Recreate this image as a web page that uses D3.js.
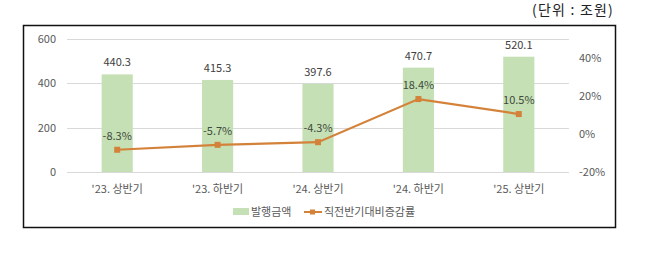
<!DOCTYPE html>
<html>
<head>
<meta charset="utf-8">
<script src="https://cdn.jsdelivr.net/npm/d3@7"></script>
<style>
body{margin:0;background:#fff;font-family:"Noto Sans CJK KR","Noto Sans",sans-serif;}
</style>
</head>
<body>
<div id="chart"></div>
<script>
var categories = ["'23. 상반기", "'23. 하반기", "'24. 상반기", "'24. 하반기", "'25. 상반기"];
var amounts = [440.3, 415.3, 397.6, 470.7, 520.1];
var changes = [-8.3, -5.7, -4.3, 18.4, 10.5];
var leftTicks = [0, 200, 400, 600];
var rightTicks = [-20, 0, 20, 40];

var width = 645, height = 256;
var plot = {left: 67, right: 569, top: 39, bottom: 172};

var svg = d3.select("#chart").append("svg")
  .attr("width", width)
  .attr("height", height);

// unit label
svg.append("text")
  .attr("x", 614).attr("y", 15)
  .attr("text-anchor", "end")
  .attr("font-size", 14)
  .attr("letter-spacing", 1.2)
  .attr("fill", "#222")
  .text("(단위 : 조원)");

// frame
svg.append("rect")
  .attr("x", 23.5).attr("y", 25.5)
  .attr("width", 592).attr("height", 202)
  .attr("fill", "none")
  .attr("stroke", "#111")
  .attr("stroke-width", 1.5);

var x = d3.scaleBand().domain(categories).range([plot.left, plot.right]).paddingInner(0.69).paddingOuter(0.345);
var y = d3.scaleLinear().domain([0, 600]).range([plot.bottom, plot.top]);
var y2 = d3.scaleLinear().domain([-20, 50]).range([plot.bottom, plot.top]);

// gridlines
svg.append("g").selectAll("line").data(leftTicks).enter().append("line")
  .attr("x1", plot.left).attr("x2", plot.right)
  .attr("y1", function(d){ return Math.round(y(d)) + 0.5; })
  .attr("y2", function(d){ return Math.round(y(d)) + 0.5; })
  .attr("stroke", "#d9d9d9");

// left axis
var leftAxis = svg.append("g")
  .attr("transform", "translate(" + (plot.left - 11) + ",0)")
  .call(d3.axisLeft(y).tickValues(leftTicks).tickSize(0).tickPadding(0));
leftAxis.select(".domain").remove();
leftAxis.selectAll("text").attr("font-size", 11).attr("fill", "#595959").attr("font-family", "Noto Sans CJK KR");

// right axis
var rightAxis = svg.append("g")
  .attr("transform", "translate(" + (plot.right + 10) + ",0)")
  .call(d3.axisRight(y2).tickValues(rightTicks).tickSize(0).tickPadding(0).tickFormat(function(d){ return d + "%"; }));
rightAxis.select(".domain").remove();
rightAxis.selectAll("text").attr("font-size", 11).attr("fill", "#595959").attr("font-family", "Noto Sans CJK KR");

// bars
svg.append("g").selectAll("rect").data(amounts).enter().append("rect")
  .attr("x", function(d, i){ return x(categories[i]); })
  .attr("width", x.bandwidth())
  .attr("y", function(d){ return y(d); })
  .attr("height", function(d){ return y(0) - y(d); })
  .attr("fill", "#c5e0b4");

// bar labels
svg.append("g").selectAll("text").data(amounts).enter().append("text")
  .attr("x", function(d, i){ return x(categories[i]) + x.bandwidth() / 2; })
  .attr("y", function(d){ return y(d) - 8; })
  .attr("text-anchor", "middle")
  .attr("font-size", 11)
  .attr("fill", "#404040")
  .text(function(d){ return d.toFixed(1); });

// line
var cx = function(d, i){ return x(categories[i]) + x.bandwidth() / 2; };
svg.append("path")
  .datum(changes)
  .attr("d", d3.line().x(cx).y(function(d){ return y2(d); }))
  .attr("fill", "none")
  .attr("stroke", "#d4823a")
  .attr("stroke-width", 2.2);

svg.append("g").selectAll("rect").data(changes).enter().append("rect")
  .attr("x", function(d, i){ return cx(d, i) - 3; })
  .attr("y", function(d){ return y2(d) - 3; })
  .attr("width", 6).attr("height", 6)
  .attr("fill", "#d4823a");

// line labels
svg.append("g").selectAll("text").data(changes).enter().append("text")
  .attr("x", cx)
  .attr("y", function(d){ return y2(d) - 10; })
  .attr("text-anchor", "middle")
  .attr("font-size", 11)
  .attr("fill", "#3f4a3c")
  .text(function(d){ return d.toFixed(1) + "%"; });

// category labels
svg.append("g").selectAll("text").data(categories).enter().append("text")
  .attr("x", function(d){ return x(d) + x.bandwidth() / 2; })
  .attr("y", 193)
  .attr("text-anchor", "middle")
  .attr("font-size", 11)
  .attr("fill", "#595959")
  .text(function(d){ return d; });

// legend
var legend = svg.append("g").attr("transform", "translate(0,212)");
legend.append("rect").attr("x", 233).attr("y", -4).attr("width", 16).attr("height", 7).attr("fill", "#c5e0b4");
legend.append("text").attr("x", 251).attr("y", 4).attr("font-size", 11).attr("fill", "#595959").text("발행금액");
legend.append("line").attr("x1", 304).attr("x2", 322).attr("y1", 0).attr("y2", 0).attr("stroke", "#d4823a").attr("stroke-width", 2);
legend.append("rect").attr("x", 310).attr("y", -2.5).attr("width", 5).attr("height", 5).attr("fill", "#d4823a");
legend.append("text").attr("x", 324).attr("y", 4).attr("font-size", 11).attr("fill", "#595959").text("직전반기대비증감률");
</script>
</body>
</html>
